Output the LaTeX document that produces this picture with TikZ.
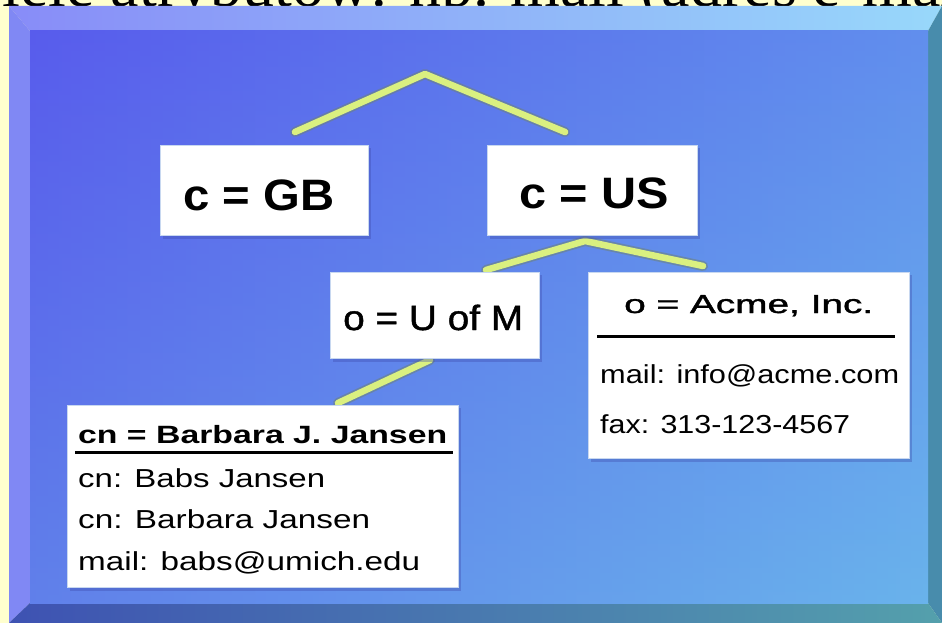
\documentclass[tikz,border=0pt]{standalone}
\usepackage{fontspec}
\setmainfont{Liberation Serif}
\newfontfamily\arialf{Liberation Sans}
\newfontfamily\arialmed[FakeBold=1.2]{Liberation Sans}
\usepackage{graphicx}
\definecolor{bgyellow}{RGB}{255,255,206}
\definecolor{topbevL}{RGB}{136,140,248}
\definecolor{topbevR}{RGB}{152,216,250}
\definecolor{leftbev}{RGB}{128,136,244}
\definecolor{rightbev}{RGB}{72,140,172}
\definecolor{botbevL}{RGB}{62,82,178}
\definecolor{botbevR}{RGB}{84,160,172}
\definecolor{innerL}{RGB}{88,92,236}
\definecolor{innerR}{RGB}{102,170,238}
\definecolor{innerB}{RGB}{112,196,232}
\definecolor{connyel}{RGB}{218,240,128}
\definecolor{connedge}{RGB}{110,130,120}
\definecolor{boxrim}{RGB}{200,216,240}
\definecolor{boxshadow}{RGB}{60,72,170}
\newcommand\fitto[2]{\resizebox{#1}{\height}{#2}}
\tikzset{
  boxnode/.style={fill=white, draw=boxrim, line width=1pt, inner sep=0pt, anchor=north west},
  shadowbox/.style={fill=boxshadow, opacity=0.35},
  connedgestyle/.style={draw=connedge, line width=10pt, opacity=0.55, line cap=round, line join=round},
  connstyle/.style={draw=connyel, line width=6.5pt, line cap=round, line join=round},
  bigbold/.style={anchor=base west, inner sep=0pt, font=\arialf\bfseries\fontsize{44}{44}\selectfont},
  midtext/.style={anchor=base west, inner sep=0pt, font=\arialmed\fontsize{35}{35}\selectfont},
  midsmall/.style={anchor=base west, inner sep=0pt, font=\arialmed\fontsize{26}{26}\selectfont},
  smalltext/.style={anchor=base west, inner sep=0pt, font=\arialf\fontsize{26}{26}\selectfont},
  smallbold/.style={anchor=base west, inner sep=0pt, font=\arialf\bfseries\fontsize{25}{25}\selectfont},
  rule/.style={draw=black, line width=3pt}
}
\begin{document}
\begin{tikzpicture}[x=1pt,y=-1pt]
\useasboundingbox (0,0) rectangle (942,623);
\fill[bgyellow] (0,0) rectangle (942,623);
% cut-off heading
\begin{scope}
\clip (0,0) rectangle (942,623);
\node[anchor=base west, inner sep=0pt, font=\fontsize{64}{64}\selectfont] (heading) at (-44,6.5) {wiele atrybutów: np. mail (adres e-mail)};
\end{scope}
% panel bevels
\shade[left color=topbevL, right color=topbevR] (9,6) -- (942,6) -- (928,31) -- (30,31) -- cycle;
\fill[leftbev] (9,6) -- (30,31) -- (30,603) -- (9,623) -- cycle;
\fill[rightbev] (942,6) -- (942,623) -- (928,603) -- (928,31) -- cycle;
\shade[left color=botbevL, right color=botbevR] (9,623) -- (30,603) -- (928,603) -- (942,623) -- cycle;
% inner panel
\shade[left color=innerL, right color=innerR] (30,31) rectangle (928,603);
\shade[top color=innerL, bottom color=innerB, opacity=0.35] (30,31) rectangle (928,603);

% connectors
\coordinate (apexA) at (425,74);
\coordinate (endAL) at (295,132);
\coordinate (endAR) at (565,132);
\coordinate (apexB) at (585,241);
\coordinate (endBL) at (486,270);
\coordinate (endBR) at (703,266);
\coordinate (endCT) at (430,360);
\coordinate (endCB) at (338,403);
\draw[connedgestyle] (endAL) -- (apexA) -- (endAR);
\draw[connedgestyle] (endBL) -- (apexB) -- (endBR);
\draw[connedgestyle] (endCT) -- (endCB);
\draw[connstyle] (endAL) -- (apexA) -- (endAR);
\draw[connstyle] (endBL) -- (apexB) -- (endBR);
\draw[connstyle] (endCT) -- (endCB);

% shadows
\fill[shadowbox] (163,148) rectangle (371,239);
\fill[shadowbox] (490,148) rectangle (700,239);
\fill[shadowbox] (333,275) rectangle (542,362);
\fill[shadowbox] (591,275) rectangle (912,462);
\fill[shadowbox] (70,408) rectangle (461,591);

% boxes
\node[boxnode, minimum width=208pt, minimum height=90pt] (gb) at (160,145) {};
\node[boxnode, minimum width=210pt, minimum height=90pt] (us) at (487,145) {};
\node[boxnode, minimum width=209pt, minimum height=86pt] (uofm) at (330,272) {};
\node[boxnode, minimum width=321pt, minimum height=186pt] (acme) at (588,272) {};
\node[boxnode, minimum width=391pt, minimum height=182pt] (babs) at (67,405) {};

% texts
\node[bigbold] (gbtext) at (183,210) {\fitto{151pt}{c = GB}};
\node[bigbold] (ustext) at (519,208) {\fitto{150pt}{c = US}};
\node[midtext] (uofmtext) at (343,330) {\fitto{180pt}{o = U of M}};
\node[midsmall] (acmetitle) at (624,313) {\fitto{249pt}{o = Acme, Inc.}};
\draw[rule] (597,336) -- (895,336);
\node[smalltext] (acmemail) at (600,383) {\fitto{299pt}{mail: info@acme.com}};
\node[smalltext] (acmefax) at (600,433) {\fitto{250pt}{fax: 313-123-4567}};
\node[smallbold] (babstitle) at (78,443) {\fitto{369pt}{cn = Barbara J. Jansen}};
\draw[rule] (75,452) -- (453,452);
\node[smalltext] (babsA) at (78,487) {\fitto{247pt}{cn: Babs Jansen}};
\node[smalltext] (babsB) at (78,528) {\fitto{292pt}{cn: Barbara Jansen}};
\node[smalltext] (babsC) at (78,570) {\fitto{342pt}{mail: babs@umich.edu}};
\end{tikzpicture}
\end{document}
